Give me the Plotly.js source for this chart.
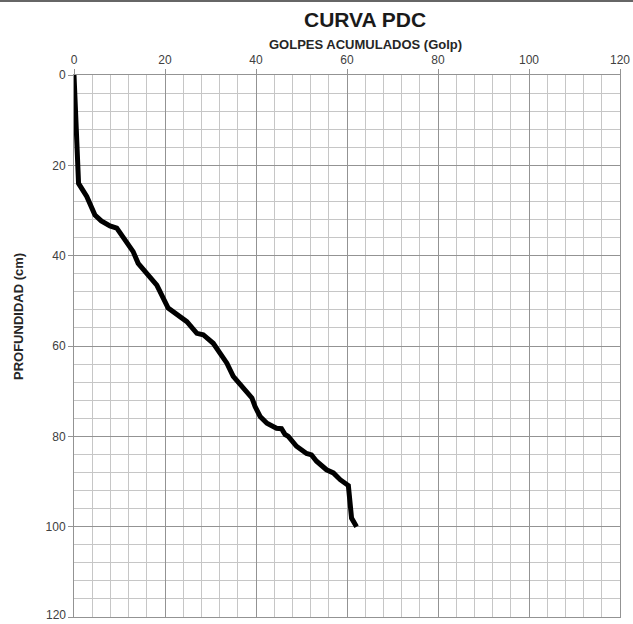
<!DOCTYPE html>
<html>
<head>
<meta charset="utf-8">
<script src="https://cdn.plot.ly/plotly-3.0.1.min.js"></script>
<style>html,body{margin:0;padding:0;background:#fff;overflow:hidden;}#chart{width:633px;height:624px;}</style>
</head>
<body>
<div id="chart"></div>
<script>
// Golpes acumulados (x) vs profundidad (cm) (y)
var golpes = [0, 0.4, 1.0, 2.8, 4.6, 6.0, 7.9, 9.4, 10.8, 13.0, 14.1, 16.3, 18.2, 20.7, 21.8, 24.8, 27.0, 28.4, 30.6, 32.8, 33.6, 35.0, 36.8, 39.1, 39.8, 40.9, 42.4, 44.5, 45.6, 46.4, 47.1, 48.9, 51.1, 52.2, 53.3, 55.5, 57.0, 58.5, 60.3, 60.7, 61.0, 62.1];
var profundidad = [0, 12, 24, 26.9, 31.0, 32.3, 33.4, 33.9, 35.8, 39.1, 41.7, 44.2, 46.5, 51.6, 52.4, 54.6, 57.2, 57.5, 59.4, 62.3, 63.8, 66.7, 69.0, 71.5, 73.4, 75.6, 77.1, 78.2, 78.3, 79.6, 80.0, 82.2, 83.8, 84.1, 85.5, 87.4, 88.1, 89.6, 90.9, 95.5, 98.1, 100.0];
var xTicks = [0, 20, 40, 60, 80, 100, 120];
var yTicks = [0, 20, 40, 60, 80, 100, 120];
var yTickText = ['0', '20', '40', '60', '80', '100', ''];   // last label drawn below as annotation (would be clipped)
var yLastLabel = '120';

var font = "Liberation Sans, Arial, sans-serif";
var trace = {
  x: golpes, y: profundidad, type: 'scatter', mode: 'lines',
  line: {color: '#000000', width: 5, shape: 'linear'},
  hoverinfo: 'skip', cliponaxis: false
};
var axisCommon = {
  showgrid: true, gridcolor: '#939393', gridwidth: 1,
  minor: {dtick: 4, showgrid: true, gridcolor: '#c6c6c6', gridwidth: 1},
  ticks: 'outside', ticklen: 5, tickcolor: '#939393',
  zeroline: false, showline: true, linecolor: '#939393', linewidth: 1, mirror: true,
  tickfont: {size: 12, color: '#404040', family: font},
  fixedrange: true
};
var layout = {
  width: 633, height: 624,
  margin: {l: 74, r: 13, t: 75, b: 7},
  paper_bgcolor: '#ffffff', plot_bgcolor: '#ffffff',
  showlegend: false,
  font: {family: font, color: '#404040'},
  xaxis: Object.assign({side: 'top', range: [0, 120], tickvals: xTicks, ticktext: xTicks.map(String)}, axisCommon),
  yaxis: Object.assign({range: [120, 0], tickvals: yTicks, ticktext: yTickText}, axisCommon),
  annotations: [
    {text: '<b>CURVA PDC</b>', xref: 'paper', yref: 'paper', x: (365 - 74) / 546, y: 1 + (75 - 20) / 542,
     xanchor: 'center', yanchor: 'middle', showarrow: false, font: {size: 21, color: '#1a1a1a', family: font}},
    {text: '<b>GOLPES ACUMULADOS (Golp)</b>', xref: 'paper', yref: 'paper', x: (365 - 74) / 546, y: 1 + (75 - 44) / 542,
     xanchor: 'center', yanchor: 'middle', showarrow: false, font: {size: 13, color: '#262626', family: font}},
    {text: '<b>PROFUNDIDAD (cm)</b>', xref: 'paper', yref: 'paper', x: (18 - 74) / 546, y: 1 - (317 - 75) / 542,
     xanchor: 'center', yanchor: 'middle', textangle: -90, showarrow: false, font: {size: 13, color: '#262626', family: font}},
    {text: yLastLabel, xref: 'paper', yref: 'y', x: 0, y: yTicks[yTicks.length - 1],
     xanchor: 'right', yanchor: 'middle', xshift: -7, yshift: 2, showarrow: false, borderpad: 0,
     font: {size: 12, color: '#404040', family: font}}
  ],
  shapes: [
    {type: 'line', xref: 'paper', yref: 'paper', x0: -74/546, x1: 1 + 13/546, y0: 1 + 74/542, y1: 1 + 74/542,
     line: {color: '#666666', width: 2}}
  ]
};
Plotly.newPlot('chart', [trace], layout, {displayModeBar: false, staticPlot: true});
</script>
</body>
</html>
